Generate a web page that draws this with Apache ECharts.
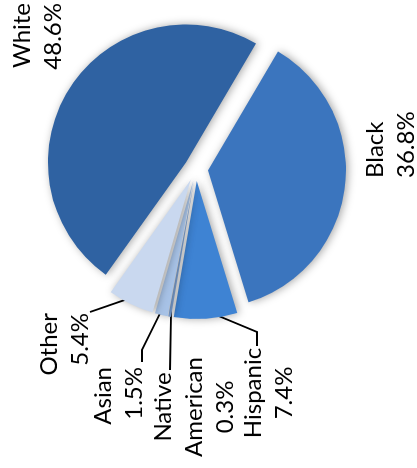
<!DOCTYPE html>
<html><head><meta charset="utf-8">
<script src="https://cdn.jsdelivr.net/npm/echarts@6/dist/echarts.min.js"></script>
<style>
html,body{margin:0;padding:0;background:#fff;width:417px;height:468px;overflow:hidden;position:relative}
#c{width:468px;height:417px;position:absolute;left:0;top:0;transform-origin:0 0;transform:translate(0,468px) rotate(-90deg)}
</style>
</head><body><div id="c"></div>
<script>
// ---- data ----
const categories = ['White', 'Black', 'Hispanic', 'Native American', 'Asian', 'Other'];
const shares = [48.6, 36.8, 7.4, 0.3, 1.5, 5.4];

// ---- styles / layout (chart is drawn in its own frame and turned a quarter-turn, like the reference) ----
const sliceColors = ['#2F62A2', '#3B75BE', '#3E83D3', '#7EA4D8', '#A7C2E6', '#C9D8EF'];
const CX = 299, CY = 196, R = 138, OFFSET = 12, START = 144.5;
// label anchor, alignment, leader attach points and elbows (px, chart frame)
const labelPlace = {
  'White': { c: [465, 38], align: 'right' },
  'Black': { c: [290, 391], align: 'left' },
  'Hispanic': { c: [75, 269], align: 'center', end: [122, 257], elbow: [136, 257] },
  'Native American': { c: [61, 194], align: 'center', end: [98, 170] },
  'Asian': { c: [101, 119], align: 'right', end: [106, 142], elbow: [118, 142] },
  'Other': { c: [155, 65], align: 'right', end: [156, 90] }
};

const total = shares.reduce((a, b) => a + b, 0);
function midAngle(i) {
  let cum = 0;
  for (let k = 0; k < i; k++) cum += shares[k];
  const a0 = START - cum / total * 360;
  const a1 = a0 - shares[i] / total * 360;
  return (a0 + a1) / 2 * Math.PI / 180;
}
function sliceCenter(i) {
  const m = midAngle(i);
  return [CX + Math.cos(m) * OFFSET, CY - Math.sin(m) * OFFSET];
}
function anchorFor(i) {
  const m = midAngle(i), c = sliceCenter(i);
  return [c[0] + Math.cos(m) * R * 0.94, c[1] - Math.sin(m) * R * 0.94];
}

// one pie per slice so every slice can be pulled out along its own bisector
const series = categories.map((cat, i) => ({
  type: 'pie',
  center: sliceCenter(i),
  radius: [0, R],
  startAngle: START,
  clockwise: true,
  avoidLabelOverlap: false,
  silent: true,
  emphasis: { disabled: true },
  label: {
    show: true,
    position: 'outside',
    color: '#000',
    fontFamily: 'Lato',
    fontSize: 24,
    lineHeight: 31,
    formatter: p => p.name.split(' ').join('\n') + '\n' + p.value.toFixed(1) + '%'
  },
  labelLine: { show: true, lineStyle: { color: '#000', width: 1.8 } },
  labelLayout: function (p) {
    const pl = labelPlace[categories[p.dataIndex]];
    const out = { x: pl.c[0], y: pl.c[1], align: pl.align, verticalAlign: 'middle', hideOverlap: false, moveOverlap: null };
    if (pl.end) {
      const a = anchorFor(p.dataIndex);
      out.labelLinePoints = pl.elbow ? [a, pl.elbow, pl.end] : [a, pl.end, pl.end];
    }
    return out;
  },
  data: categories.map((name, j) => j === i ? {
    name: name,
    value: shares[j],
    itemStyle: {
      color: sliceColors[j],
      shadowBlur: 8,
      shadowColor: 'rgba(0,0,0,0.35)',
      shadowOffsetX: 0,
      shadowOffsetY: 2
    },
    labelLine: { show: !!labelPlace[name].end }
  } : {
    name: name,
    value: shares[j],
    itemStyle: { opacity: 0 },
    label: { show: false },
    labelLine: { show: false }
  })
}));

const chart = echarts.init(document.getElementById('c'));
chart.setOption({
  animation: false,
  backgroundColor: '#ffffff',
  series: series
});
</script>
</body></html>
